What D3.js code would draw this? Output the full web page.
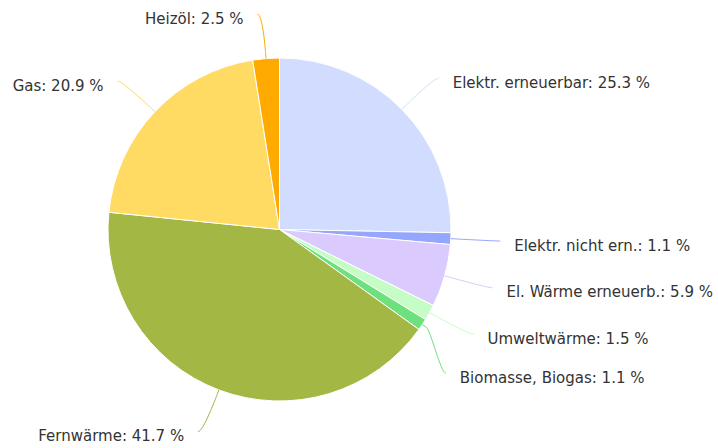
<!DOCTYPE html>
<html>
<head>
<meta charset="utf-8">
<script src="https://cdnjs.cloudflare.com/ajax/libs/d3/7.8.5/d3.min.js"></script>
<style>
    body { margin: 0; background: #fff; }
    svg { display: block; }
</style>
</head>
<body>
<svg id="chart" width="718" height="448"></svg>
<script>
var categories = ["Elektr. erneuerbar", "Elektr. nicht ern.", "El. Wärme erneuerb.", "Umweltwärme",
    "Biomasse, Biogas", "Fernwärme", "Gas", "Heizöl"];
var shares = [25.3, 1.1, 5.9, 1.5, 1.1, 41.7, 20.9, 2.5];
var colors = ["#d2dcff", "#94a6fd", "#dacafe", "#c6fdc6", "#6ee17e", "#a3b844", "#ffdb63", "#ffaa00"];

function draw_pie_chart(svg_select) {
    var svg = d3.select(svg_select),
        cx = 279.5,
        cy = 229.5,
        radius = 171.5,
        labelRadius = 216,
        padding = 5,
        textGap = 14,
        minGap = 39,
        g = svg.append("g").attr("transform", "translate(" + cx + "," + cy + ")");

    var data = categories.map(function (c, i) {
        return {name: c, value: shares[i], color: colors[i]};
    });

    var pie = d3.pie()
        .sort(null)
        .value(function (d) { return d.value; });

    var arc = d3.arc()
        .innerRadius(0)
        .outerRadius(radius);

    var arcs = pie(data);

    g.selectAll("path.slice")
        .data(arcs)
        .enter().append("path")
        .attr("class", "slice")
        .attr("d", arc)
        .attr("fill", function (d) { return d.data.color; })
        .attr("stroke", "#fff")
        .attr("stroke-width", 1)
        .attr("stroke-linejoin", "round");

    // label anchors, highcharts style
    arcs.forEach(function (d) {
        var a = (d.startAngle + d.endAngle) / 2;
        d.mid = a;
        d.left = a > Math.PI;
        d.ly = -labelRadius * Math.cos(a);
    });

    [false, true].forEach(function (side) {
        var list = arcs.filter(function (d) { return d.left === side; })
            .sort(function (a, b) { return a.ly - b.ly; });
        for (var i = 1; i < list.length; i++) {
            if (list[i].ly - list[i - 1].ly < minGap) {
                list[i].ly = list[i - 1].ly + minGap;
            }
        }
    });

    arcs.forEach(function (d) {
        var s = d.left ? -1 : 1;
        var dy = Math.max(-labelRadius, Math.min(labelRadius, d.ly));
        d.lx = s * (Math.sqrt(labelRadius * labelRadius - dy * dy) + padding);
    });

    var line = function (d) {
        var sx = Math.sin(d.mid), sy = -Math.cos(d.mid);
        var tx = sx * radius, ty = sy * radius;
        var bx = sx * (radius + 5), by = sy * (radius + 5);
        var c1x = d.lx + (d.left ? 5 : -5);
        var path = d3.path();
        path.moveTo(d.lx, d.ly);
        path.bezierCurveTo(c1x, d.ly, 2 * bx - tx, 2 * by - ty, bx, by);
        path.lineTo(tx, ty);
        return path.toString();
    };

    g.selectAll("path.connector")
        .data(arcs)
        .enter().append("path")
        .attr("class", "connector")
        .attr("d", line)
        .attr("fill", "none")
        .attr("stroke", function (d) { return d.data.color; })
        .attr("stroke-width", 1);

    g.selectAll("text.label")
        .data(arcs)
        .enter().append("text")
        .attr("class", "label")
        .attr("x", function (d) { return d.lx + (d.left ? -textGap : textGap); })
        .attr("y", function (d) { return d.ly + 9.5; })
        .attr("text-anchor", function (d) { return d.left ? "end" : "start"; })
        .attr("font-family", "'DejaVu Sans', Verdana, sans-serif")
        .attr("font-size", 15)
        .attr("fill", "#333333")
        .text(function (d) { return d.data.name + ": " + d.data.value.toFixed(1) + " %"; });
}

draw_pie_chart("#chart");
</script>
</body>
</html>
